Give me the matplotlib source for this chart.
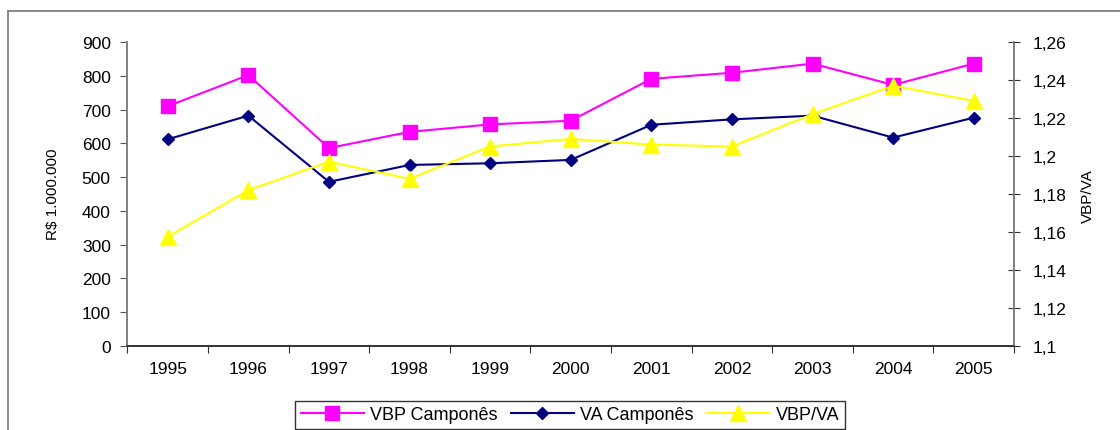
import numpy as np
import matplotlib.pyplot as plt
from matplotlib.lines import Line2D

# dados
anos = ['1995', '1996', '1997', '1998', '1999', '2000', '2001', '2002', '2003', '2004', '2005']
vbp_campones = [710, 802, 586, 634, 656, 667, 791, 809, 836, 773, 836]
va_campones = [612, 682, 486, 536, 541, 551, 655, 671, 682, 617, 676]
vbp_va = [1.1575, 1.182, 1.197, 1.188, 1.205, 1.209, 1.206, 1.205, 1.222, 1.237, 1.229]

ticks_esq = [0, 100, 200, 300, 400, 500, 600, 700, 800, 900]
ticks_dir = [1.1, 1.12, 1.14, 1.16, 1.18, 1.2, 1.22, 1.24, 1.26]
rotulos_dir = ['1,1', '1,12', '1,14', '1,16', '1,18', '1,2', '1,22', '1,24', '1,26']

plt.rcParams['font.family'] = ['Liberation Sans', 'DejaVu Sans']
narrow = ['Liberation Sans Narrow', 'Liberation Sans', 'DejaVu Sans']

fig = plt.figure(figsize=(11.2, 4.31), dpi=100)
ax = fig.add_axes([0.1138, 0.1949, 0.7916, 0.7053])
ax2 = ax.twinx()

x = np.arange(len(anos))
l1, = ax.plot(x, vbp_campones, color='#FF00FF', lw=1.5, marker='s', markersize=9.5,
              label='VBP Camponês', zorder=3)
l2, = ax.plot(x, va_campones, color='#000080', lw=1.5, marker='D', markersize=6.5,
              label='VA Camponês', zorder=3)
l3, = ax2.plot(x, vbp_va, color='#FFFF00', lw=1.5, marker='^', markersize=11,
               label='VBP/VA', zorder=3)

ax.set_xlim(-0.5, len(anos) - 0.5)
ax.set_ylim(0, 900)
ax2.set_ylim(1.1, 1.26)

ax.set_yticks(ticks_esq)
ax.set_xticks(np.arange(-0.5, len(anos), 1.0))
ax.set_xticklabels([])
ax.set_xticks(x, minor=True)
ax.set_xticklabels(anos, minor=True)
ax.tick_params(axis='x', which='major', direction='out', length=5, color='#333333')
ax.tick_params(axis='x', which='minor', length=0, pad=11, labelsize=12.5)
ax.tick_params(axis='y', direction='out', length=5, color='#555555', pad=7, labelsize=12.5)

ax2.set_yticks(ticks_dir)
ax2.set_yticklabels(rotulos_dir)
ax2.tick_params(axis='y', direction='inout', length=9, color='#333333', pad=9, labelsize=12.5)

for a in (ax, ax2):
    a.spines['top'].set_visible(False)
    a.spines['left'].set_color('#808080')
    a.spines['right'].set_color('#808080')
    a.spines['bottom'].set_color('#333333')
    a.spines['left'].set_linewidth(1.2)
    a.spines['right'].set_linewidth(1.2)
    a.spines['bottom'].set_linewidth(1.2)

fig.text(0.047, 0.55, 'R$ 1.000.000', rotation=90, ha='center', va='center',
         fontsize=11, family=narrow)
fig.text(0.971, 0.545, 'VBP/VA', rotation=90, ha='center', va='center',
         fontsize=11, family=narrow)

# moldura externa
fig.add_artist(Line2D([0.007, 0.007], [0.0, 0.972], transform=fig.transFigure,
                      color='#808080', lw=1.3))
fig.add_artist(Line2D([0.007, 1.0], [0.972, 0.972], transform=fig.transFigure,
                      color='#808080', lw=1.3))

leg = fig.legend(handles=[l1, l2, l3], loc='upper center', bbox_to_anchor=(0.509, 0.0673),
                 ncol=3, frameon=True, fancybox=False, edgecolor='black', fontsize=13,
                 handlelength=3.5, handletextpad=0.35, columnspacing=0.7,
                 borderpad=0.3, borderaxespad=0)
leg.get_frame().set_linewidth(1.0)

fig.savefig('out.png', dpi=100)
